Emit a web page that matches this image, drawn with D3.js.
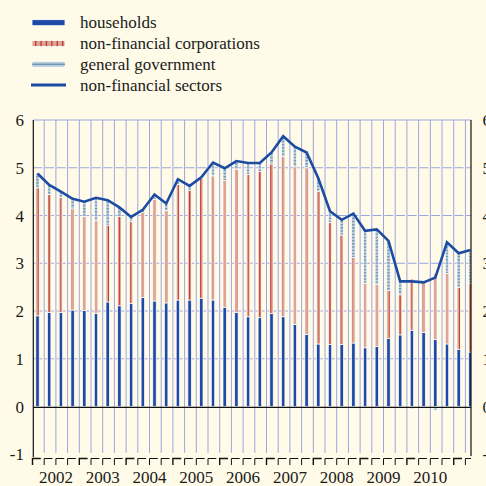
<!DOCTYPE html>
<html lang="en">
<head>
  <meta charset="UTF-8">
  <title>Debt financing of non-financial sectors</title>
  <script src="https://d3js.org/d3.v7.min.js"></script>
  <style>
    body {
      margin: 0;
      padding: 0;
      background: #fffbe8;
    }
  </style>
</head>
<body>
  <div id="chart"></div>

  <script>
    const width = 486;
    const height = 486;
    const fontFamily = "'Liberation Serif', 'DejaVu Serif', serif";

    // quarters 2002 Q1 .. 2011 Q2
    const quarters = [
      "2002Q1", "2002Q2", "2002Q3", "2002Q4", "2003Q1", "2003Q2", "2003Q3", "2003Q4",
      "2004Q1", "2004Q2", "2004Q3", "2004Q4", "2005Q1", "2005Q2", "2005Q3", "2005Q4",
      "2006Q1", "2006Q2", "2006Q3", "2006Q4", "2007Q1", "2007Q2", "2007Q3", "2007Q4",
      "2008Q1", "2008Q2", "2008Q3", "2008Q4", "2009Q1", "2009Q2", "2009Q3", "2009Q4",
      "2010Q1", "2010Q2", "2010Q3", "2010Q4", "2011Q1", "2011Q2"
    ];
    const yearLabels = ["2002", "2003", "2004", "2005", "2006", "2007", "2008", "2009", "2010"];
    const yTicks = [-1, 0, 1, 2, 3, 4, 5, 6];

    const households = [
      1.90, 1.97, 1.97, 2.02, 2.01, 1.95, 2.19, 2.11, 2.16, 2.28,
      2.21, 2.17, 2.23, 2.23, 2.27, 2.23, 2.08, 1.97, 1.88, 1.86,
      1.95, 1.88, 1.72, 1.51, 1.31, 1.30, 1.30, 1.33, 1.23, 1.26,
      1.43, 1.50, 1.60, 1.55, 1.40, 1.31, 1.20, 1.14
    ];
    const corporations = [
      2.68, 2.47, 2.41, 2.12, 1.97, 1.94, 1.61, 1.87, 1.71, 1.78,
      2.13, 1.93, 2.42, 2.30, 2.51, 2.60, 2.65, 3.00, 2.98, 3.06,
      3.13, 3.35, 3.30, 3.49, 3.20, 2.55, 2.29, 1.79, 1.35, 1.30,
      1.00, 0.84, 1.07, 1.09, 1.38, 1.48, 1.30, 1.44
    ];
    const government = [
      0.30, 0.20, 0.12, 0.21, 0.31, 0.48, 0.52, 0.19, 0.10, 0.06,
      0.10, 0.15, 0.11, 0.09, 0.02, 0.28, 0.26, 0.17, 0.24, 0.18,
      0.24, 0.43, 0.42, 0.32, 0.27, 0.24, 0.32, 0.92, 1.10, 1.15,
      1.04, 0.28, -0.05, -0.04, -0.08, 0.65, 0.71, 0.70
    ];
    const totalSectors = [
      4.88, 4.64, 4.50, 4.35, 4.29, 4.37, 4.32, 4.17, 3.97, 4.12,
      4.44, 4.25, 4.76, 4.62, 4.80, 5.11, 4.99, 5.14, 5.10, 5.10,
      5.32, 5.66, 5.44, 5.32, 4.78, 4.09, 3.91, 4.04, 3.68, 3.71,
      3.47, 2.62, 2.62, 2.60, 2.70, 3.44, 3.21, 3.28
    ];

    const colors = {
      bg: "#fffbe8",
      grid: "#9ea5dd",
      blue: "#1f49a6",
      line: "#1c4ba2",
      pink: "#dca595",
      red: "#c2392c",
      ggFill: "#bccdd8",
      ggStripe: "#6f98b8"
    };

    const plotLeft = 33.3, plotRight = 471, plotTop = 120;

    const x = d3.scaleLinear().domain([0, 38]).range([32.5, 32.5 + 11.7 * 38]);
    const y = d3.scaleLinear().domain([-1, 6]).range([454.3, 120]);
    const barOffset = 5;
    const barWidth = 3.4;

    const svg = d3.select("#chart")
      .append("svg")
      .attr("width", width)
      .attr("height", height)
      .style("font-family", fontFamily);

    svg.append("rect").attr("width", width).attr("height", height).attr("fill", colors.bg);

    const defs = svg.append("defs");
    const pNfc = defs.append("pattern")
      .attr("id", "nfc").attr("patternUnits", "userSpaceOnUse")
      .attr("width", 5.4).attr("height", 4);
    pNfc.append("rect").attr("width", 5.4).attr("height", 4).attr("fill", colors.pink);
    pNfc.append("rect").attr("width", 1.2).attr("height", 4).attr("fill", colors.red);

    const pGg = defs.append("pattern")
      .attr("id", "gg").attr("patternUnits", "userSpaceOnUse")
      .attr("width", 4).attr("height", 3.2);
    pGg.append("rect").attr("width", 4).attr("height", 3.2).attr("fill", colors.ggFill);
    pGg.append("rect").attr("width", 4).attr("height", 1.3).attr("fill", colors.ggStripe);

    defs.append("clipPath").attr("id", "plotClip")
      .append("rect")
      .attr("x", plotLeft).attr("y", plotTop - 2)
      .attr("width", plotRight - plotLeft).attr("height", y(-1) - plotTop + 4);

    // grid
    const grid = svg.append("g");
    grid.selectAll(".vgrid")
      .data(d3.range(1, quarters.length))
      .join("line")
      .attr("x1", d => x(d)).attr("x2", d => x(d))
      .attr("y1", plotTop).attr("y2", y(-1) - 1.5)
      .attr("stroke", colors.grid).attr("stroke-width", 1);
    grid.selectAll(".hgrid")
      .data(yTicks.filter(t => t > 0 && t < 6))
      .join("line")
      .attr("x1", plotLeft).attr("x2", plotRight)
      .attr("y1", d => y(d)).attr("y2", d => y(d))
      .attr("stroke", colors.grid).attr("stroke-width", 1)
      .attr("stroke-dasharray", "9,2.7");
    grid.append("line")
      .attr("x1", plotLeft).attr("x2", plotRight)
      .attr("y1", y(6)).attr("y2", y(6))
      .attr("stroke", colors.grid).attr("stroke-width", 1.2);

    // stacked bars
    const rows = quarters.map((q, i) => ({
      i: i,
      hh: households[i],
      nfc: corporations[i],
      gg: government[i],
      total: totalSectors[i]
    }));

    const bars = svg.append("g").attr("clip-path", "url(#plotClip)");
    const segs = [];
    rows.forEach(d => {
      let pos = 0, neg = 0;
      [["hh", colors.blue], ["nfc", "url(#nfc)"], ["gg", "url(#gg)"]].forEach(([key, fill]) => {
        const v = d[key];
        let y0, y1;
        if (v >= 0) { y0 = pos; y1 = pos + v; pos = y1; }
        else { y0 = neg + v; y1 = neg; neg = y0; }
        segs.push({ i: d.i, y0: y0, y1: y1, fill: fill });
      });
    });

    bars.selectAll("rect")
      .data(segs)
      .join("rect")
      .attr("x", d => x(d.i) + barOffset - barWidth / 2)
      .attr("width", barWidth)
      .attr("y", d => y(d.y1))
      .attr("height", d => Math.max(0, y(d.y0) - y(d.y1)))
      .attr("fill", d => d.fill)
      .attr("stroke", "#ffffff")
      .attr("stroke-width", 0.7);

    // axes lines
    svg.append("line")
      .attr("x1", plotLeft).attr("x2", plotRight)
      .attr("y1", y(0) + 0.8).attr("y2", y(0) + 0.8)
      .attr("stroke", "#111").attr("stroke-width", 1.1);
    svg.append("line")
      .attr("x1", plotLeft).attr("x2", plotLeft)
      .attr("y1", plotTop).attr("y2", 457)
      .attr("stroke", "#111").attr("stroke-width", 1.2);
    svg.append("line")
      .attr("x1", plotRight).attr("x2", plotRight)
      .attr("y1", plotTop).attr("y2", 456)
      .attr("stroke", "#111").attr("stroke-width", 1.2);

    // total line
    const line = d3.line()
      .x(d => x(d.i) + barOffset)
      .y(d => y(d.total));
    svg.append("path")
      .datum(rows)
      .attr("d", line)
      .attr("fill", "none")
      .attr("stroke", colors.line)
      .attr("stroke-width", 2.6)
      .attr("stroke-linejoin", "miter");

    // bottom quarter ticks
    const ticks = svg.append("g");
    quarters.forEach((q, i) => {
      const x0 = x(i);
      if (x0 > plotRight) return;
      const bold = q.endsWith("Q1");
      ticks.append("path")
        .attr("d", `M${x0},465 V458.5 H${Math.min(x0 + 8.3, plotRight)}`)
        .attr("fill", "none")
        .attr("stroke", "#111")
        .attr("stroke-width", bold ? 1.4 : 1);
    });

    // year labels
    svg.selectAll(".year")
      .data(yearLabels)
      .join("text")
      .attr("x", (d, i) => (x(i * 4) + x(i * 4 + 4)) / 2)
      .attr("y", 483)
      .attr("text-anchor", "middle")
      .attr("font-family", fontFamily)
      .attr("font-size", 17)
      .attr("fill", "#1a1a1a")
      .text(d => d);

    // left axis labels
    svg.selectAll(".ylab")
      .data(yTicks)
      .join("text")
      .attr("x", 24)
      .attr("y", d => y(d) + 6)
      .attr("text-anchor", "end")
      .attr("font-family", fontFamily)
      .attr("font-size", 17)
      .attr("fill", "#1a1a1a")
      .text(d => d);

    // right axis labels (cut by the edge, as in the source)
    svg.selectAll(".ylab2")
      .data(yTicks)
      .join("text")
      .attr("x", 482.5)
      .attr("y", d => y(d) + 6)
      .attr("text-anchor", "start")
      .attr("font-family", fontFamily)
      .attr("font-size", 17)
      .attr("fill", "#1a1a1a")
      .text(d => d);

    // legend
    const legend = svg.append("g");
    const legendItems = [
      { label: "households", type: "hh" },
      { label: "non-financial corporations", type: "nfc" },
      { label: "general government", type: "gg" },
      { label: "non-financial sectors", type: "line" }
    ];
    legendItems.forEach((item, i) => {
      const cy = 22.7 + i * 20.8;
      if (item.type === "hh") {
        legend.append("rect").attr("x", 32).attr("y", cy - 3).attr("width", 33).attr("height", 6)
          .attr("fill", colors.blue).attr("stroke", "#fff").attr("stroke-width", 0.8);
      } else if (item.type === "nfc") {
        legend.append("rect").attr("x", 32).attr("y", cy - 3).attr("width", 33).attr("height", 6)
          .attr("fill", colors.pink).attr("stroke", "#fff").attr("stroke-width", 0.8);
        legend.selectAll(null)
          .data(d3.range(6))
          .join("rect")
          .attr("x", k => 35 + k * 5.4).attr("y", cy - 2.6)
          .attr("width", 1.3).attr("height", 5.2)
          .attr("fill", colors.red);
      } else if (item.type === "gg") {
        legend.append("rect").attr("x", 32).attr("y", cy - 3).attr("width", 33).attr("height", 6)
          .attr("fill", colors.ggFill).attr("stroke", "#fff").attr("stroke-width", 0.8);
        legend.append("rect").attr("x", 32).attr("y", cy - 0.7).attr("width", 33).attr("height", 1.4)
          .attr("fill", colors.ggStripe);
      } else {
        legend.append("line").attr("x1", 31).attr("x2", 66).attr("y1", cy).attr("y2", cy)
          .attr("stroke", colors.line).attr("stroke-width", 3);
      }
      legend.append("text")
        .attr("x", 80)
        .attr("y", cy + 5.5)
        .attr("font-family", fontFamily)
        .attr("font-size", 17)
        .attr("fill", "#1a1a1a")
        .text(item.label);
    });
  </script>
</body>
</html>
